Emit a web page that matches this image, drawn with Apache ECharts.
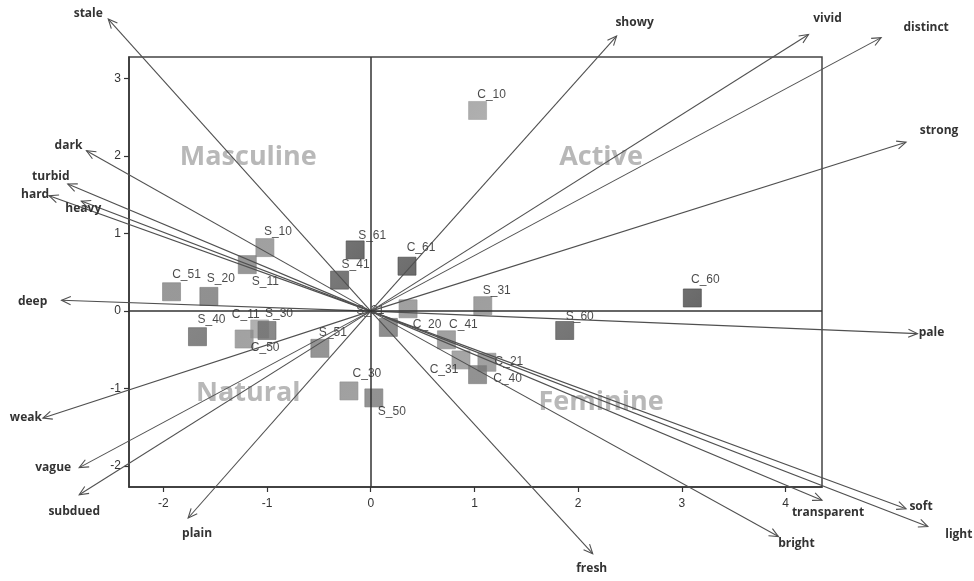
<!DOCTYPE html>
<html>
<head>
<meta charset="utf-8">
<script src="https://cdn.jsdelivr.net/npm/echarts@6/dist/echarts.min.js"></script>
<style>
html,body{margin:0;padding:0;background:#fff;}
#chart{width:974px;height:581px;}
</style>
</head>
<body>
<div id="chart"></div>
<script>
// ---- data ----
const xTickLabels = [-2, -1, 0, 1, 2, 3, 4];
const yTickLabels = [-2, -1, 0, 1, 2, 3];

const pointNames = ['S_10','S_11','C_51','S_20','S_40','C_11','S_30','C_50','S_51','C_30','S_50','S_61','S_41','S_21','C_61','C_20','S_31','S_60','C_41','C_31','C_21','C_40','C_10','C_60'];
const pointX = [-1.02,-1.19,-1.92,-1.56,-1.67,-1.07,-1.00,-1.22,-0.49,-0.21,0.03,-0.15,-0.30,0.17,0.35,0.36,1.08,1.87,0.73,0.87,1.12,1.03,1.03,3.10];
const pointY = [0.82,0.60,0.25,0.19,-0.33,-0.23,-0.25,-0.36,-0.48,-1.03,-1.12,0.79,0.40,-0.21,0.58,0.03,0.07,-0.25,-0.37,-0.63,-0.66,-0.82,2.59,0.17];

const termNames = ['stale','dark','turbid','hard','heavy','deep','weak','vague','subdued','plain','fresh','bright','transparent','soft','light','pale','showy','vivid','distinct','strong'];
const termX = [-2.53,-2.74,-2.92,-3.10,-2.79,-2.98,-3.16,-2.81,-2.81,-1.76,2.14,3.93,4.35,5.16,5.37,5.27,2.37,4.22,4.92,5.16];
const termY = [3.77,2.07,1.64,1.49,1.42,0.14,-1.38,-2.02,-2.37,-2.67,-3.13,-2.91,-2.44,-2.55,-2.78,-0.29,3.55,3.57,3.53,2.18];

const quadrantNames = ['Masculine','Active','Natural','Feminine'];
const quadrantX = [-1.18, 2.22, -1.18, 2.22];
const quadrantY = [1.99, 1.99, -1.06, -1.18];

// ---- styles (label placement / shades) ----
const pointShade = ['#7e7e7e','#727272','#747474','#6a6a6a','#5a5a5a','#939393','#626262','#808080','#6e6e6e','#7e7e7e','#6c6c6c','#404040','#4a4a4a','#666666','#404040','#7e7e7e','#7c7c7c','#4a4a4a','#7e7e7e','#848484','#7e7e7e','#6c6c6c','#8e8e8e','#3c3c3c'];
const pointLabelOffset = [[13,-16],[18,17],[15,-17],[12,-18],[14,-17],[-14,-14],[12,-17],[21,9],[13,-16],[18,-17],[18,14],[17,-14],[16,-15],[-18,-17],[14,-19],[19,16],[14,-15],[15,-14],[17,-15],[-17,10],[22,-1],[30,4],[14,-16],[13,-18]];
const termLabelOffset = [[-20,-5],[-18,-5],[-17,-7],[-14,-1],[2,7],[-29,1],[-17,0],[-26,0],[-5,17],[9,16],[-1,15],[18,7],[6,12],[15,-2],[31,8],[14,-1],[18,-14],[19,-16],[45,-10],[33,-12]];

const chart = echarts.init(document.getElementById('chart'));

const pointData = pointNames.map((n, i) => ({
  name: n,
  value: [pointX[i], pointY[i]],
  itemStyle: {
    color: new echarts.graphic.LinearGradient(0, 0, 1, 1, [
      {offset: 0, color: echarts.color.lift(pointShade[i], 0.08)},
      {offset: 1, color: echarts.color.lift(pointShade[i], -0.1)}
    ]),
    borderColor: echarts.color.lift(pointShade[i], -0.15),
    borderWidth: 0.8
  },
  label: {offset: pointLabelOffset[i]}
}));

const termData = termNames.map((n, i) => [termX[i], termY[i], n]);
const quadData = quadrantNames.map((n, i) => ({name: n, value: [quadrantX[i], quadrantY[i]]}));

chart.setOption({
  animation: false,
  backgroundColor: '#ffffff',
  grid: {left: 129, top: 57, right: 152, bottom: 94, show: true, borderColor: '#444', borderWidth: 1.5, backgroundColor: 'transparent'},
  xAxis: {
    type: 'value', min: -2.33, max: 4.35,
    splitLine: {show: false},
    axisLine: {show: true, onZero: false, lineStyle: {color: '#333', width: 1.5}},
    axisTick: {show: true, length: 5, lineStyle: {color: '#333', width: 1.2}, customValues: xTickLabels},
    axisLabel: {color: '#333', fontSize: 12, fontFamily: 'Liberation Sans, Arial, sans-serif', margin: 11, customValues: xTickLabels}
  },
  yAxis: {
    type: 'value', min: -2.27, max: 3.28,
    splitLine: {show: false},
    axisLine: {show: true, onZero: false, lineStyle: {color: '#333', width: 1.5}},
    axisTick: {show: true, length: 5, lineStyle: {color: '#333', width: 1.2}, customValues: yTickLabels},
    axisLabel: {color: '#333', fontSize: 12, fontFamily: 'Liberation Sans, Arial, sans-serif', margin: 8, customValues: yTickLabels}
  },
  series: [
    {
      type: 'scatter', z: 1, symbolSize: 0, silent: true,
      data: quadData,
      label: {show: true, position: 'inside', formatter: '{b}', color: '#a6a6a6', fontSize: 27, fontWeight: 'bold', fontFamily: 'Open Sans, Noto Sans, sans-serif'}
    },
    {
      type: 'scatter', z: 2, symbol: 'rect', symbolSize: 18,
      data: pointData,
      label: {show: true, position: 'inside', formatter: '{b}', color: '#1a1a1a', fontSize: 12, fontFamily: 'Liberation Sans, Arial, sans-serif'}
    },
    {
      type: 'custom', z: 3, clip: false, silent: true,
      data: termData,
      encode: {x: 0, y: 1},
      renderItem: function (params, api) {
        const o = api.coord([0, 0]);
        const p = api.coord([api.value(0), api.value(1)]);
        const ang = Math.atan2(p[1] - o[1], p[0] - o[0]);
        const L = 10, a = 0.42;
        const h1 = [p[0] - L * Math.cos(ang - a), p[1] - L * Math.sin(ang - a)];
        const h2 = [p[0] - L * Math.cos(ang + a), p[1] - L * Math.sin(ang + a)];
        const off = termLabelOffset[params.dataIndex];
        return {
          type: 'group',
          children: [
            {type: 'line', shape: {x1: o[0], y1: o[1], x2: p[0], y2: p[1]}, style: {stroke: '#505050', lineWidth: 1.1}},
            {type: 'polyline', shape: {points: [h1, p, h2]}, style: {stroke: '#505050', fill: null, lineWidth: 1.1}},
            {type: 'text', x: p[0] + off[0], y: p[1] + off[1], style: {text: termNames[params.dataIndex], fill: '#333', font: 'bold 12px "Open Sans", "Noto Sans", sans-serif', align: 'center', verticalAlign: 'middle'}}
          ]
        };
      },
      markLine: {
        silent: true, symbol: 'none', label: {show: false},
        lineStyle: {color: '#333', width: 1.5, type: 'solid'},
        data: [{xAxis: 0}, {yAxis: 0}]
      }
    }
  ]
});
</script>
</body>
</html>
